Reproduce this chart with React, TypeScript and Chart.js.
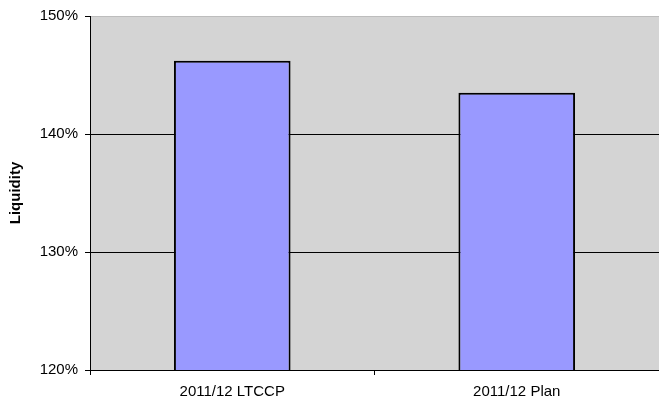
import React, { useEffect, useRef } from "react";
import { Chart, registerables } from "chart.js";

Chart.register(...registerables);

const categories = ["2011/12 LTCCP", "2011/12 Plan"];
const liquidity = [146.2, 143.5];
const yTicks = [120, 130, 140, 150];

const FONT = "'Liberation Sans', Arial, sans-serif";

// Fills the plot area with the grey panel before anything else is drawn.
const plotBackground = {
  id: "plotBackground",
  beforeDraw(chart: any) {
    const { ctx, chartArea } = chart;
    ctx.save();
    ctx.fillStyle = "#D4D4D4";
    ctx.fillRect(chartArea.left, chartArea.top, chartArea.right - chartArea.left, chartArea.bottom - chartArea.top);
    ctx.restore();
  },
};

export default function App() {
  const canvasRef = useRef<HTMLCanvasElement | null>(null);

  useEffect(() => {
    if (!canvasRef.current) return;
    const chart = new Chart(canvasRef.current, {
      type: "bar",
      data: {
        labels: categories,
        datasets: [
          {
            label: "Liquidity",
            data: liquidity,
            backgroundColor: "#9999FF",
            borderColor: "#000000",
            borderWidth: 2,
            borderSkipped: false,
            barPercentage: 0.41,
            categoryPercentage: 1,
          },
        ],
      },
      options: {
        responsive: false,
        animation: false,
        layout: { padding: { top: 13, right: 0, left: 0, bottom: 0 } },
        plugins: {
          legend: { display: false },
          tooltip: { enabled: false },
        },
        scales: {
          x: {
            afterFit(scale: any) {
              scale.height = 33;
            },
            border: { color: "#000000", width: 1 },
            grid: {
              offset: true,
              drawOnChartArea: false,
              drawTicks: true,
              tickLength: 5,
              color: "#000000",
            },
            ticks: {
              color: "#000000",
              font: { family: FONT, size: 15 },
              padding: 8,
              maxRotation: 0,
            },
          },
          y: {
            min: 120,
            max: 150,
            afterFit(scale: any) {
              scale.width = 90;
            },
            afterBuildTicks(scale: any) {
              scale.ticks = yTicks.map((v) => ({ value: v }));
            },
            border: { color: "#000000", width: 1 },
            grid: {
              color: (c: any) => (c.tick && c.tick.value === 150 ? "#BDBDBD" : "#000000"),
              tickColor: "#000000",
              tickLength: 5,
            },
            ticks: {
              color: "#000000",
              font: { family: FONT, size: 15 },
              padding: 7,
              callback: (v: any) => `${v}%`,
            },
            title: {
              display: true,
              text: "Liquidity",
              color: "#000000",
              font: { family: FONT, size: 15, weight: "bold" },
              padding: { top: 7, bottom: 0 },
            },
          },
        },
      },
      plugins: [plotBackground],
    });
    return () => chart.destroy();
  }, []);

  return (
    <div style={{ position: "fixed", left: 0, top: 0, width: 659, height: 403, background: "#FFFFFF" }}>
      <canvas ref={canvasRef} width={659} height={403} />
    </div>
  );
}
